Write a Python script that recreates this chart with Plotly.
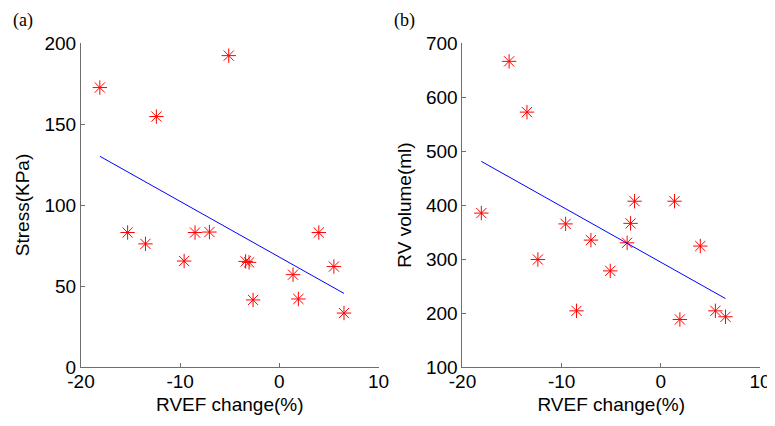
import numpy as np
import plotly.graph_objects as go
from plotly.subplots import make_subplots

rvef_change = [-18.1, -15.3, -13.5, -12.4, -9.6, -8.5, -7.05, -5.1,
               -3.4, -3.05, -2.65, 1.38, 1.92, 3.98, 5.5, 6.52]
stress_kpa = [172.5, 83, 76, 154.6, 65.4, 83, 83.3, 192.2,
              65.2, 64.6, 41.4, 57, 42, 83, 62, 33.3]
rv_volume = [385, 666, 572, 299, 365, 204, 335, 278,
             330, 366, 407, 407, 188, 324, 204, 193]

x_ticks = [-20, -10, 0, 10]
x_tick_text = ["-20", "-10", "0", "10"]
stress_ticks = [0, 50, 100, 150, 200]
volume_ticks = [100, 200, 300, 400, 500, 600, 700]

fig = make_subplots(rows=1, cols=2, horizontal_spacing=0.1237)

x = np.array(rvef_change)
for col, yv in ((1, stress_kpa), (2, rv_volume)):
    fig.add_trace(go.Scatter(
        x=rvef_change, y=yv, mode="markers",
        marker=dict(symbol="asterisk-open", size=12,
                    line=dict(color="red", width=1), color="red"),
        showlegend=False), row=1, col=col)
    k, b = np.polyfit(x, np.array(yv, dtype=float), 1)
    xs = [x.min(), x.max()]
    fig.add_trace(go.Scatter(
        x=xs, y=[k * xs[0] + b, k * xs[1] + b], mode="lines",
        line=dict(color="blue", width=1), showlegend=False), row=1, col=col)

axis_style = dict(showline=True, linecolor="#6e6e6e", linewidth=1,
                  ticks="inside", ticklen=4, tickcolor="#6e6e6e",
                  showgrid=False, zeroline=False, mirror=False, automargin=False,
                  tickfont=dict(family="Liberation Sans, Arial", size=19, color="black"))
title_font = dict(family="Liberation Sans, Arial", size=19, color="black")

fig.update_xaxes(range=[-20, 10], tickvals=x_ticks, ticktext=x_tick_text,
                 ticklabelstandoff=-3,
                 title=dict(text="RVEF change(%)", font=title_font, standoff=6),
                 **axis_style)
fig.update_yaxes(**axis_style)
fig.update_yaxes(range=[0, 200], tickvals=stress_ticks,
                 title=dict(text="Stress(KPa)", font=title_font, standoff=9), row=1, col=1)
fig.update_yaxes(range=[100, 700], tickvals=volume_ticks,
                 title=dict(text="RV volume(ml)", font=title_font, standoff=9), row=1, col=2)

fig.add_annotation(text="(a)", xref="paper", yref="paper", x=-0.085, y=1.03,
                   xanchor="center", yanchor="bottom", showarrow=False,
                   font=dict(family="Liberation Serif, Times New Roman", size=18, color="black"))
fig.add_annotation(text="(b)", xref="paper", yref="paper", x=0.4757, y=1.03,
                   xanchor="center", yanchor="bottom", showarrow=False,
                   font=dict(family="Liberation Serif, Times New Roman", size=18, color="black"))

fig.update_layout(width=767, height=418, plot_bgcolor="white", paper_bgcolor="white",
                  margin=dict(l=73, r=15, t=35, b=59, autoexpand=False))
fig.write_html("out.html")
